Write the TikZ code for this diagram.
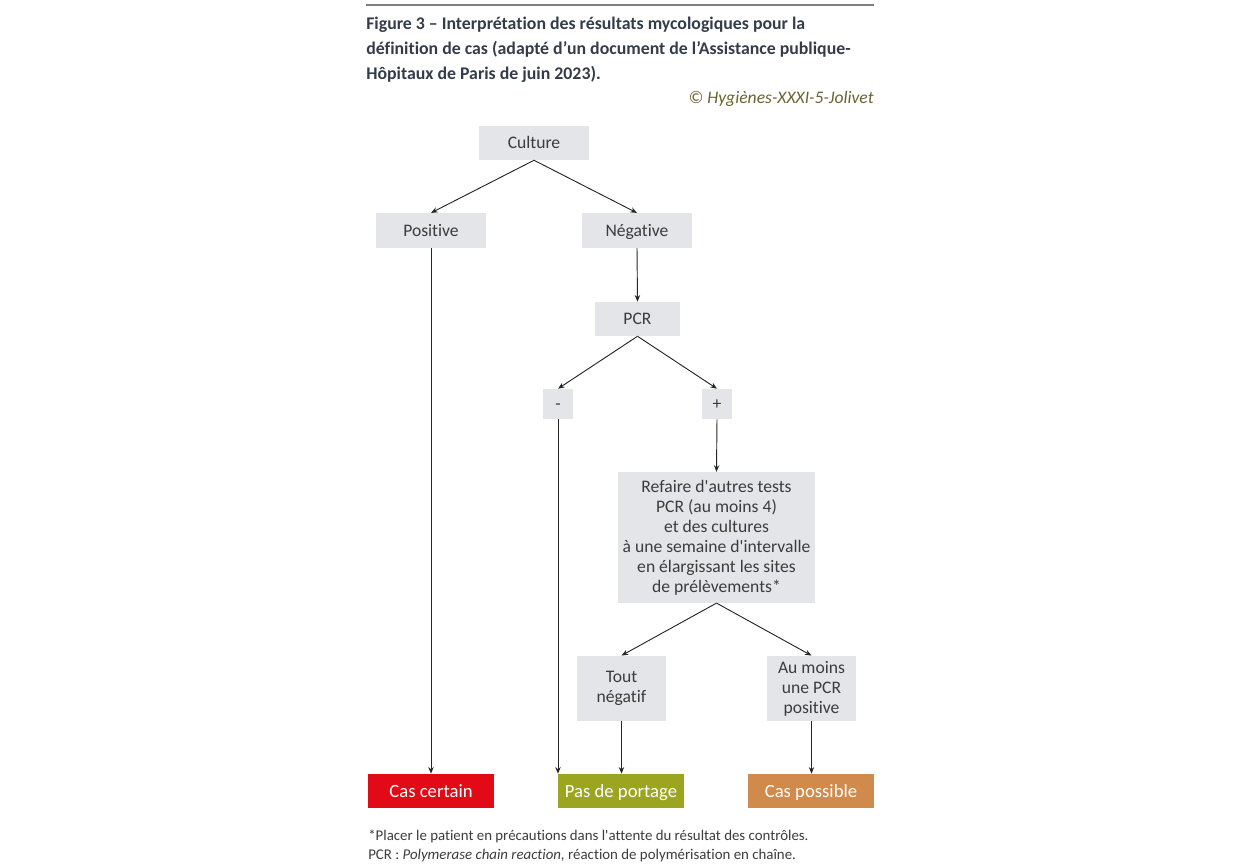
\documentclass[tikz,border=0pt]{standalone}
\usepackage{fontspec}
\setmainfont{Carlito}[Ligatures={TeXOff,NoCommon}]
\usetikzlibrary{arrows.meta}

\definecolor{boxgray}{HTML}{E3E5E9}
\definecolor{txtgray}{HTML}{3C3C3C}
\definecolor{titlecol}{HTML}{333D4A}
\definecolor{credcol}{HTML}{6B6230}
\definecolor{certred}{HTML}{E30A17}
\definecolor{portolive}{HTML}{9CA520}
\definecolor{possorange}{HTML}{D08A4C}

\tikzset{
  box/.style={fill=boxgray, text=txtgray, inner sep=0pt, align=center,
    font=\fontsize{13.2}{15}\selectfont},
  oneline/.style={text height=11pt, text depth=2pt},
  endbox/.style={inner sep=0pt, text=white, minimum width=94.5pt, minimum height=25.5pt,
    oneline, font=\fontsize{14}{15}\selectfont},
  arr/.style={-{Stealth[length=5pt,width=4pt]}, line width=0.7pt, black!85},
}

\begin{document}
\begin{tikzpicture}[x=0.75pt, y=-0.75pt]
  \useasboundingbox (0,0) rectangle (1240,866);

  % titre
  \draw[gray, line width=0.8pt] (366,5) -- (874,5);
  \node[anchor=base west, text=titlecol, align=left, inner sep=0pt,
        font=\bfseries\fontsize{13.35}{18.75}\selectfont] (title) at (366,80)
    {Figure 3 – Interprétation des résultats mycologiques pour la\\
     définition de cas (adapté d’un document de l’Assistance publique-\\
     Hôpitaux de Paris de juin 2023).};
  \node[anchor=base east, text=credcol, inner sep=0pt,
        font=\itshape\fontsize{13.2}{14}\selectfont] (credit) at (874,104)
    {© Hygiènes-XXXI-5-Jolivet};

  % premier niveau
  \node[box, oneline, minimum width=82.5pt, minimum height=25.5pt] (culture) at (534,143) {Culture};
  \node[box, oneline, minimum width=82.5pt, minimum height=26pt] (pos) at (431,230.5) {Positive};
  \node[box, oneline, minimum width=82.5pt, minimum height=26pt] (neg) at (637,230.5) {Négative};

  % PCR
  \node[box, oneline, minimum width=64pt, minimum height=25.5pt] (pcr) at (637.5,319) {PCR};
  \node[box, oneline, minimum width=22.5pt, minimum height=22.5pt] (minus) at (558,404) {-};
  \node[box, oneline, minimum width=22.5pt, minimum height=22.5pt] (plus) at (717,404) {+};

  % nouveaux tests
  \node[box, minimum width=148pt, minimum height=98pt] (redo) at (716.5,537.5)
    {Refaire d'autres tests\\ PCR (au moins 4)\\ et des cultures\\
     à une semaine d'intervalle\\ en élargissant les sites\\ de prélèvements*};
  \node[box, minimum width=67pt, minimum height=49pt] (allneg) at (621.5,688.5) {Tout\\ négatif};
  \node[box, minimum width=67pt, minimum height=49pt] (onepos) at (811.5,688.5)
    {Au moins\\ une PCR\\ positive};

  % conclusions
  \node[endbox, fill=certred] (certain) at (431,791) {Cas certain};
  \node[endbox, fill=portolive] (noport) at (621,791) {Pas de portage};
  \node[endbox, fill=possorange] (possible) at (811,791) {Cas possible};

  % flèches
  \draw[arr] (culture.south) -- (pos.north);
  \draw[arr] (culture.south) -- (neg.north);
  \draw[arr] (pos.south) -- (certain.north);
  \draw[arr] (neg.south) -- (pcr.north);
  \draw[arr] (pcr.south) -- (minus.north);
  \draw[arr] (pcr.south) -- (plus.north);
  \draw[arr] (minus.south) -- (minus.south |- noport.north);
  \draw[arr] (plus.south) -- (redo.north);
  \draw[arr] (redo.south) -- (allneg.north);
  \draw[arr] (redo.south) -- (onepos.north);
  \draw[arr] (allneg.south) -- (allneg.south |- noport.north);
  \draw[arr] (onepos.south) -- (onepos.south |- possible.north);

  % notes
  \node[anchor=base west, text=txtgray, align=left, inner sep=0pt,
        font=\fontsize{11.15}{14.2}\selectfont] (notes) at (368,859)
    {*Placer le patient en précautions dans l'attente du résultat des contrôles.\\
     PCR : \textit{Polymerase chain reaction,} réaction de polymérisation en chaîne.};
\end{tikzpicture}
\end{document}
